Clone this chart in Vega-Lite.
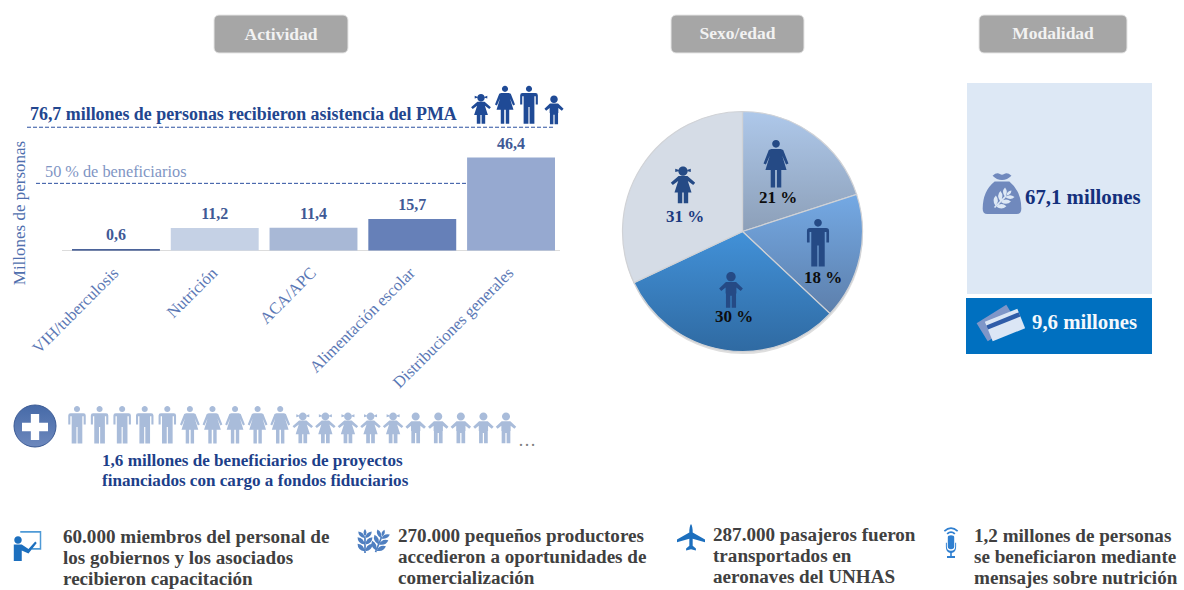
{
"$schema":"https://vega.github.io/schema/vega-lite/v6.json",
"width":1184,"height":590,"padding":0,"autosize":{"type":"none"},"background":"white",
"config":{"view":{"stroke":null},"font":"Liberation Serif","text":{"font":"Liberation Serif","align":"left","baseline":"alphabetic"}},
"params":[
{"name":"MAN","value":"M0,-1A.16,.16 0 1 1 0,-.68A.16,.16 0 1 1 0,-1ZM-.34,-.62H.34Q.46,-.62 .46,-.5V-.02H.35V-.46H.28V.98H.03V.1H-.03V.98H-.28V-.46H-.35V-.02H-.46V-.5Q-.46,-.62 -.34,-.62Z"},
{"name":"WOMAN","value":"M0,-1A.16,.16 0 1 1 0,-.68A.16,.16 0 1 1 0,-1ZM-.2,-.62H.2L.3,-.58L.52,-.02L.42,.02L.26,-.34L.44,.25H.22V.98H.04V.25H-.04V.98H-.22V.25H-.44L-.26,-.34L-.42,.02L-.52,-.02L-.3,-.58Z"},
{"name":"GIRL","value":"M0,-1A.25,.25 0 1 1 0,-.5A.25,.25 0 1 1 0,-1ZM-.25,-.82L-.42,-.88V-.7L-.25,-.75ZM.25,-.82L.42,-.88V-.7L.25,-.75ZM-.24,-.48H.24L.66,-.12L.55,0L.26,-.22L.46,.4H.28V.98H.04V.4H-.04V.98H-.28V.4H-.46L-.26,-.22L-.55,0L-.66,-.12Z"},
{"name":"BOY","value":"M0,-1A.26,.26 0 1 1 0,-.48A.26,.26 0 1 1 0,-1ZM-.28,-.44H.28L.66,-.08L.54,.05L.3,-.14V.2H.28V.98H.04V.32H-.04V.98H-.28V.2H-.3V-.14L-.54,.05L-.66,-.08Z"},
{"name":"EAR","value":"M-.07,1V-.4H.07V1ZM-.04,.85Q-.62,.75 -.62,.22Q-.06,.28 -.04,.85ZM.04,.85Q.62,.75 .62,.22Q.06,.28 .04,.85ZM-.04,.3Q-.62,.2 -.62,-.32Q-.06,-.26 -.04,.3ZM.04,.3Q.62,.2 .62,-.32Q.06,-.26 .04,.3ZM-.04,-.25Q-.56,-.35 -.56,-.8Q-.06,-.74 -.04,-.25ZM.04,-.25Q.56,-.35 .56,-.8Q.06,-.74 .04,-.25ZM0,-.4Q-.24,-.7 0,-1Q.24,-.7 0,-.4Z"}
],
"datasets":{
"actividad":[
{"actividad":"VIH/tuberculosis","millones":0.6,"etiqueta":"0,6"},
{"actividad":"Nutrición","millones":11.2,"etiqueta":"11,2"},
{"actividad":"ACA/APC","millones":11.4,"etiqueta":"11,4"},
{"actividad":"Alimentación escolar","millones":15.7,"etiqueta":"15,7"},
{"actividad":"Distribuciones generales","millones":46.4,"etiqueta":"46,4"}],
"sexo":[
{"grupo":"Mujeres","orden":1,"parte":20,"etiqueta":"21 %"},
{"grupo":"Hombres","orden":2,"parte":17,"etiqueta":"18 %"},
{"grupo":"Niños","orden":3,"parte":31,"etiqueta":"30 %"},
{"grupo":"Niñas","orden":4,"parte":32,"etiqueta":"31 %"}],
"modalidad":[
{"modalidad":"Alimentos","etiqueta":"67,1 millones"},
{"modalidad":"Efectivo","etiqueta":"9,6 millones"}],
"fila":[
{"n":1,"tipo":"hombre","talla":"adulto"},{"n":2,"tipo":"hombre","talla":"adulto"},{"n":3,"tipo":"hombre","talla":"adulto"},{"n":4,"tipo":"hombre","talla":"adulto"},{"n":5,"tipo":"hombre","talla":"adulto"},
{"n":6,"tipo":"mujer","talla":"adulto"},{"n":7,"tipo":"mujer","talla":"adulto"},{"n":8,"tipo":"mujer","talla":"adulto"},{"n":9,"tipo":"mujer","talla":"adulto"},{"n":10,"tipo":"mujer","talla":"adulto"},
{"n":11,"tipo":"niña","talla":"niño"},{"n":12,"tipo":"niña","talla":"niño"},{"n":13,"tipo":"niña","talla":"niño"},{"n":14,"tipo":"niña","talla":"niño"},{"n":15,"tipo":"niña","talla":"niño"},
{"n":16,"tipo":"niño","talla":"niño"},{"n":17,"tipo":"niño","talla":"niño"},{"n":18,"tipo":"niño","talla":"niño"},{"n":19,"tipo":"niño","talla":"niño"},{"n":20,"tipo":"niño","talla":"niño"}],
"uno":[{"a":1}]
},
"data":{"name":"uno"},
"resolve":{"scale":{"x":"independent","y":"independent"}},
"layer":[
{"mark":{"type":"rect","x":214,"x2":348,"y":15,"y2":53,"cornerRadius":5,"fill":"#a6a6a6","stroke":"#e6e6e6"},"encoding":{}},
{"mark":{"type":"rect","x":671,"x2":804,"y":15,"y2":53,"cornerRadius":5,"fill":"#a6a6a6","stroke":"#e6e6e6"},"encoding":{}},
{"mark":{"type":"rect","x":979,"x2":1127,"y":15,"y2":53,"cornerRadius":5,"fill":"#a6a6a6","stroke":"#e6e6e6"},"encoding":{}},
{"mark":{"type":"text","x":281,"y":40,"text":"Actividad","align":"center","fontWeight":"bold","fontSize":17.5,"fill":"#f2f2f2"}},
{"mark":{"type":"text","x":737.5,"y":39,"text":"Sexo/edad","align":"center","fontWeight":"bold","fontSize":17.5,"fill":"#f2f2f2"}},
{"mark":{"type":"text","x":1053,"y":39,"text":"Modalidad","align":"center","fontWeight":"bold","fontSize":17.5,"fill":"#f2f2f2"}},

{"layer":[
{"mark":{"type":"rule","x":62,"x2":560,"stroke":"#dcdcdc","strokeWidth":1},"encoding":{"y":{"datum":0,"scale":{"domain":[0,46.4],"range":[250.5,157.5],"nice":false,"zero":true},"axis":null}}},
{"mark":{"type":"bar"},
 "data":{"name":"actividad"},
 "encoding":{
  "x":{"field":"actividad","type":"nominal","axis":null,"sort":null,"scale":{"domain":["VIH/tuberculosis","Nutrición","ACA/APC","Alimentación escolar","Distribuciones generales"],"range":[72,555],"paddingInner":0.11,"paddingOuter":0}},
  "y":{"field":"millones","type":"quantitative","axis":null},
  "color":{"field":"actividad","type":"nominal","legend":null,"sort":null,"scale":{"domain":["VIH/tuberculosis","Nutrición","ACA/APC","Alimentación escolar","Distribuciones generales"],"range":["#0f2f78","#c5d1e5","#a8b8d6","#6680b8","#96a9d0"]}}}},
{"mark":{"type":"text","dy":-14,"align":"center","fontWeight":"bold","fontSize":16,"fill":"#3f5a96","baseline":"middle"},
 "data":{"name":"actividad"},
 "encoding":{
  "x":{"field":"actividad","type":"nominal"},
  "y":{"field":"millones","type":"quantitative"},
  "text":{"field":"etiqueta"}}},
{"mark":{"type":"text","angle":-45,"align":"right","baseline":"middle","fontSize":16.5,"fill":"#5b78b5"},
 "data":{"name":"actividad"},
 "encoding":{
  "x":{"field":"actividad","type":"nominal"},
  "y":{"datum":-10},
  "text":{"field":"actividad"}}},
{"mark":{"type":"rule","x":36,"x2":467,"stroke":"#2c50a0","strokeWidth":1,"strokeDash":[4,2]},"encoding":{"y":{"datum":33.5}}},
{"mark":{"type":"rule","x":27,"x2":553,"stroke":"#2c50a0","strokeWidth":1,"strokeDash":[4,2]},"encoding":{"y":{"datum":61.5}}}
]},

{"mark":{"type":"text","x":30,"y":120,"text":"76,7 millones de personas recibieron asistencia del PMA","fontWeight":"bold","fontSize":17.9,"fill":"#22468f"}},
{"mark":{"type":"text","x":45,"y":177,"text":"50 % de beneficiarios","fontSize":16.3,"fill":"#7f95c4"}},
{"mark":{"type":"text","x":20,"y":213,"angle":-90,"align":"center","baseline":"middle","text":"Millones de personas","fontSize":17,"fill":"#4f6fae"}},
{"mark":{"type":"point","shape":{"expr":"GIRL"},"x":481,"y":109,"size":900,"filled":true,"fill":"#1f4a96","opacity":1,"strokeWidth":0}},
{"mark":{"type":"point","shape":{"expr":"WOMAN"},"x":505,"y":105,"size":1480,"filled":true,"fill":"#1f4a96","opacity":1,"strokeWidth":0}},
{"mark":{"type":"point","shape":{"expr":"MAN"},"x":529,"y":105,"size":1480,"filled":true,"fill":"#1f4a96","opacity":1,"strokeWidth":0}},
{"mark":{"type":"point","shape":{"expr":"BOY"},"x":554,"y":110,"size":840,"filled":true,"fill":"#1f4a96","opacity":1,"strokeWidth":0}},

{"mark":{"type":"point","shape":"circle","x":743,"y":234,"size":57600,"filled":true,"fill":"#dedede","opacity":1,"strokeWidth":0}},
{"data":{"name":"sexo"},
 "mark":{"type":"arc","outerRadius":120,"stroke":"#d0d2d6","strokeWidth":1.2},
 "encoding":{
  "x":{"value":742.5},"y":{"value":231.5},
  "theta":{"field":"parte","type":"quantitative","stack":true,"scale":{"domain":[0,100],"range":[0,6.2832]}},
  "order":{"field":"orden"},
  "fill":{"condition":[
    {"test":"datum.grupo==='Mujeres'","value":{"gradient":"linear","x1":0,"y1":0,"x2":0,"y2":1,"stops":[{"offset":0,"color":"#aec8ea"},{"offset":1,"color":"#8c9fb8"}]}},
    {"test":"datum.grupo==='Hombres'","value":{"gradient":"linear","x1":0,"y1":0,"x2":0,"y2":1,"stops":[{"offset":0,"color":"#74a9e4"},{"offset":1,"color":"#5d7fab"}]}},
    {"test":"datum.grupo==='Niños'","value":{"gradient":"linear","x1":0,"y1":0,"x2":0,"y2":1,"stops":[{"offset":0,"color":"#4291d8"},{"offset":1,"color":"#2f6aa2"}]}}
   ],"value":"#d5dce6"}}},
{"mark":{"type":"point","shape":{"expr":"WOMAN"},"x":776,"y":164,"size":2304,"filled":true,"fill":"#254a85","opacity":1,"strokeWidth":0}},
{"mark":{"type":"point","shape":{"expr":"MAN"},"x":818,"y":243,"size":2304,"filled":true,"fill":"#254a85","opacity":1,"strokeWidth":0}},
{"mark":{"type":"point","shape":{"expr":"BOY"},"x":731,"y":290,"size":1296,"filled":true,"fill":"#254a85","opacity":1,"strokeWidth":0}},
{"mark":{"type":"point","shape":{"expr":"GIRL"},"x":683,"y":185,"size":1369,"filled":true,"fill":"#254a85","opacity":1,"strokeWidth":0}},
{"data":{"name":"sexo"},"transform":[{"filter":"datum.orden===1"}],"mark":{"type":"text","x":778,"y":198,"align":"center","baseline":"middle","fontWeight":"bold","fontSize":17,"fill":"#0d0d0d"},"encoding":{"text":{"field":"etiqueta"}}},
{"data":{"name":"sexo"},"transform":[{"filter":"datum.orden===2"}],"mark":{"type":"text","x":823,"y":278,"align":"center","baseline":"middle","fontWeight":"bold","fontSize":17,"fill":"#0d0d0d"},"encoding":{"text":{"field":"etiqueta"}}},
{"data":{"name":"sexo"},"transform":[{"filter":"datum.orden===3"}],"mark":{"type":"text","x":734,"y":317,"align":"center","baseline":"middle","fontWeight":"bold","fontSize":17,"fill":"#0d0d0d"},"encoding":{"text":{"field":"etiqueta"}}},
{"data":{"name":"sexo"},"transform":[{"filter":"datum.orden===4"}],"mark":{"type":"text","x":685,"y":217,"align":"center","baseline":"middle","fontWeight":"bold","fontSize":17,"fill":"#1c3a80"},"encoding":{"text":{"field":"etiqueta"}}},

{"mark":{"type":"rect","x":967,"x2":1152,"y":83,"y2":294,"fill":"#dde8f5"},"encoding":{}},
{"mark":{"type":"rect","x":966,"x2":1152,"y":298,"y2":354,"fill":"#0070c0"},"encoding":{}},
{"data":{"name":"modalidad"},"transform":[{"filter":"datum.modalidad==='Alimentos'"}],"mark":{"type":"text","x":1025,"y":204,"fontWeight":"bold","fontSize":20.8,"fill":"#14307c"},"encoding":{"text":{"field":"etiqueta"}}},
{"data":{"name":"modalidad"},"transform":[{"filter":"datum.modalidad==='Efectivo'"}],"mark":{"type":"text","x":1032,"y":329,"fontWeight":"bold","fontSize":20.8,"fill":"#f4f8fc"},"encoding":{"text":{"field":"etiqueta"}}},
{"mark":{"type":"point","shape":"M-.45,-.82Q-.25,-1 -.1,-.9Q0,-.85 .1,-.9Q.25,-1 .45,-.82Q.25,-.62 0,-.62Q-.25,-.62 -.45,-.82ZM-.35,-.55H.35Q.92,-.1 .92,.75Q.92,1 .7,1H-.7Q-.92,1 -.92,.75Q-.92,-.1 -.35,-.55Z","x":1002,"y":193,"size":1764,"filled":true,"fill":"#7089bd","opacity":1,"strokeWidth":0}},
{"mark":{"type":"point","shape":{"expr":"EAR"},"x":1003,"y":199,"size":576,"angle":45,"filled":true,"fill":"#dde8f5","opacity":1,"strokeWidth":0}},
{"mark":{"type":"point","shape":"M-1,-.6H1V.6H-1Z","x":997,"y":323,"size":1225,"angle":-32,"filled":true,"fill":"#7f96c8","opacity":1,"strokeWidth":0}},
{"mark":{"type":"point","shape":"M-1,-.6H1V.6H-1Z","x":1005,"y":325,"size":1225,"angle":-22,"filled":true,"fill":"#dbe6f5","opacity":1,"strokeWidth":0}},
{"mark":{"type":"point","shape":"M-1,-.38H1V-.12H-1Z","x":1005,"y":325,"size":1225,"angle":-22,"filled":true,"fill":"#2f5ca8","opacity":1,"strokeWidth":0}},

{"mark":{"type":"point","shape":"circle","x":35,"y":426,"size":1764,"filled":true,"fill":{"gradient":"linear","x1":0,"y1":0,"x2":0,"y2":1,"stops":[{"offset":0,"color":"#466aa8"},{"offset":1,"color":"#6d88bd"}]},"stroke":"#3b5a94","strokeWidth":1,"opacity":1}},
{"mark":{"type":"point","shape":"M-.32,-1H.32V-.32H1V.32H.32V1H-.32V.32H-1V-.32H-.32Z","x":35,"y":427,"size":676,"filled":true,"fill":"#ffffff","opacity":1,"strokeWidth":0}},
{"data":{"name":"fila"},
 "mark":{"type":"point","filled":true,"opacity":1,"fill":"#a9bcda","strokeWidth":0},
 "encoding":{
  "x":{"field":"n","type":"ordinal","axis":null,"scale":{"range":[77,506],"padding":0}},
  "y":{"field":"talla","type":"ordinal","axis":null,"scale":{"domain":["adulto","niño"],"range":[425,428],"padding":0}},
  "shape":{"field":"tipo","type":"nominal","legend":null,"scale":{"domain":["hombre","mujer","niña","niño"],"range":[
   "M0,-1A.16,.16 0 1 1 0,-.68A.16,.16 0 1 1 0,-1ZM-.34,-.62H.34Q.46,-.62 .46,-.5V-.02H.35V-.46H.28V.98H.03V.1H-.03V.98H-.28V-.46H-.35V-.02H-.46V-.5Q-.46,-.62 -.34,-.62Z",
   "M0,-1A.16,.16 0 1 1 0,-.68A.16,.16 0 1 1 0,-1ZM-.2,-.62H.2L.3,-.58L.52,-.02L.42,.02L.26,-.34L.44,.25H.22V.98H.04V.25H-.04V.98H-.22V.25H-.44L-.26,-.34L-.42,.02L-.52,-.02L-.3,-.58Z",
   "M0,-1A.25,.25 0 1 1 0,-.5A.25,.25 0 1 1 0,-1ZM-.25,-.82L-.42,-.88V-.7L-.25,-.75ZM.25,-.82L.42,-.88V-.7L.25,-.75ZM-.24,-.48H.24L.66,-.12L.55,0L.26,-.22L.46,.4H.28V.98H.04V.4H-.04V.98H-.28V.4H-.46L-.26,-.22L-.55,0L-.66,-.12Z",
   "M0,-1A.26,.26 0 1 1 0,-.48A.26,.26 0 1 1 0,-1ZM-.28,-.44H.28L.66,-.08L.54,.05L.3,-.14V.2H.28V.98H.04V.32H-.04V.98H-.28V.2H-.3V-.14L-.54,.05L-.66,-.08Z"]}},
  "size":{"field":"talla","type":"ordinal","legend":null,"scale":{"domain":["adulto","niño"],"range":[1444,961]}}}},
{"mark":{"type":"text","x":518,"y":446,"text":"…","fontSize":18,"fill":"#808080"}},
{"mark":{"type":"text","x":102,"y":466,"text":["1,6 millones de beneficiarios de proyectos","financiados con cargo a fondos fiduciarios"],"lineHeight":19.5,"fontWeight":"bold","fontSize":17.1,"fill":"#1d3f8a"}},

{"mark":{"type":"text","x":63,"y":543,"text":["60.000 miembros del personal de","los gobiernos y los asociados","recibieron capacitación"],"lineHeight":21,"fontWeight":"bold","fontSize":19.1,"fill":"#404040"}},
{"mark":{"type":"text","x":398,"y":542,"text":["270.000 pequeños productores","accedieron a oportunidades de","comercialización"],"lineHeight":21,"fontWeight":"bold","fontSize":19.1,"fill":"#404040"}},
{"mark":{"type":"text","x":713,"y":541,"text":["287.000 pasajeros fueron","transportados en","aeronaves del UNHAS"],"lineHeight":21,"fontWeight":"bold","fontSize":19.1,"fill":"#404040"}},
{"mark":{"type":"text","x":974,"y":542,"text":["1,2 millones de personas","se beneficiaron mediante","mensajes sobre nutrición"],"lineHeight":21,"fontWeight":"bold","fontSize":19.1,"fill":"#404040"}},

{"mark":{"type":"point","shape":"M-.45,-1H.95V.25H.3V.13H.85V-.88H-.45Z","x":27,"y":546,"size":900,"filled":true,"fill":"#4f9ad6","opacity":1,"strokeWidth":0}},
{"mark":{"type":"point","shape":"M-.6,-.65A.25,.25 0 1 1 -.6,-.15A.25,.25 0 1 1 -.6,-.65ZM-.88,-.1H-.35L.1,.2L.55,-.3L.65,-.2L.1,.5L-.35,.3V1H-.88Z","x":27,"y":546,"size":900,"filled":true,"fill":"#1c6fbe","opacity":1,"strokeWidth":0}},
{"mark":{"type":"point","shape":{"expr":"EAR"},"x":365,"y":541,"size":576,"filled":true,"fill":"#4f7fc0","opacity":1,"strokeWidth":0}},
{"mark":{"type":"point","shape":{"expr":"EAR"},"x":380,"y":541,"size":576,"angle":22,"filled":true,"fill":"#4f7fc0","opacity":1,"strokeWidth":0}},
{"mark":{"type":"point","shape":"M0,-1Q.12,-.85 .12,-.4L1,.1V.3L.12,.05V.55L.35,.75V.9L0,.8L-.35,.9V.75L-.12,.55V.05L-1,.3V.1L-.12,-.4Q-.12,-.85 0,-1Z","x":691,"y":538,"size":784,"filled":true,"fill":"#1c6fbe","opacity":1,"strokeWidth":0}},
{"mark":{"type":"point","shape":"M-.45,-.72Q0,-1.12 .45,-.72L.38,-.64Q0,-.98 -.38,-.64ZM-.28,-.55Q0,-.8 .28,-.55L.2,-.47Q0,-.65 -.2,-.47ZM-.2,-.3Q-.2,-.42 0,-.42Q.2,-.42 .2,-.3V.3Q.2,.45 0,.45Q-.2,.45 -.2,.3ZM-.32,.05H-.26V.3Q-.26,.55 0,.55Q.26,.55 .26,.3V.05H.32V.3Q.32,.65 .05,.68V.88H.25V1H-.25V.88H-.05V.68Q-.32,.65 -.32,.3Z","x":951,"y":542,"size":1024,"filled":true,"fill":"#2f7fd0","opacity":1,"strokeWidth":0}}
]
}
